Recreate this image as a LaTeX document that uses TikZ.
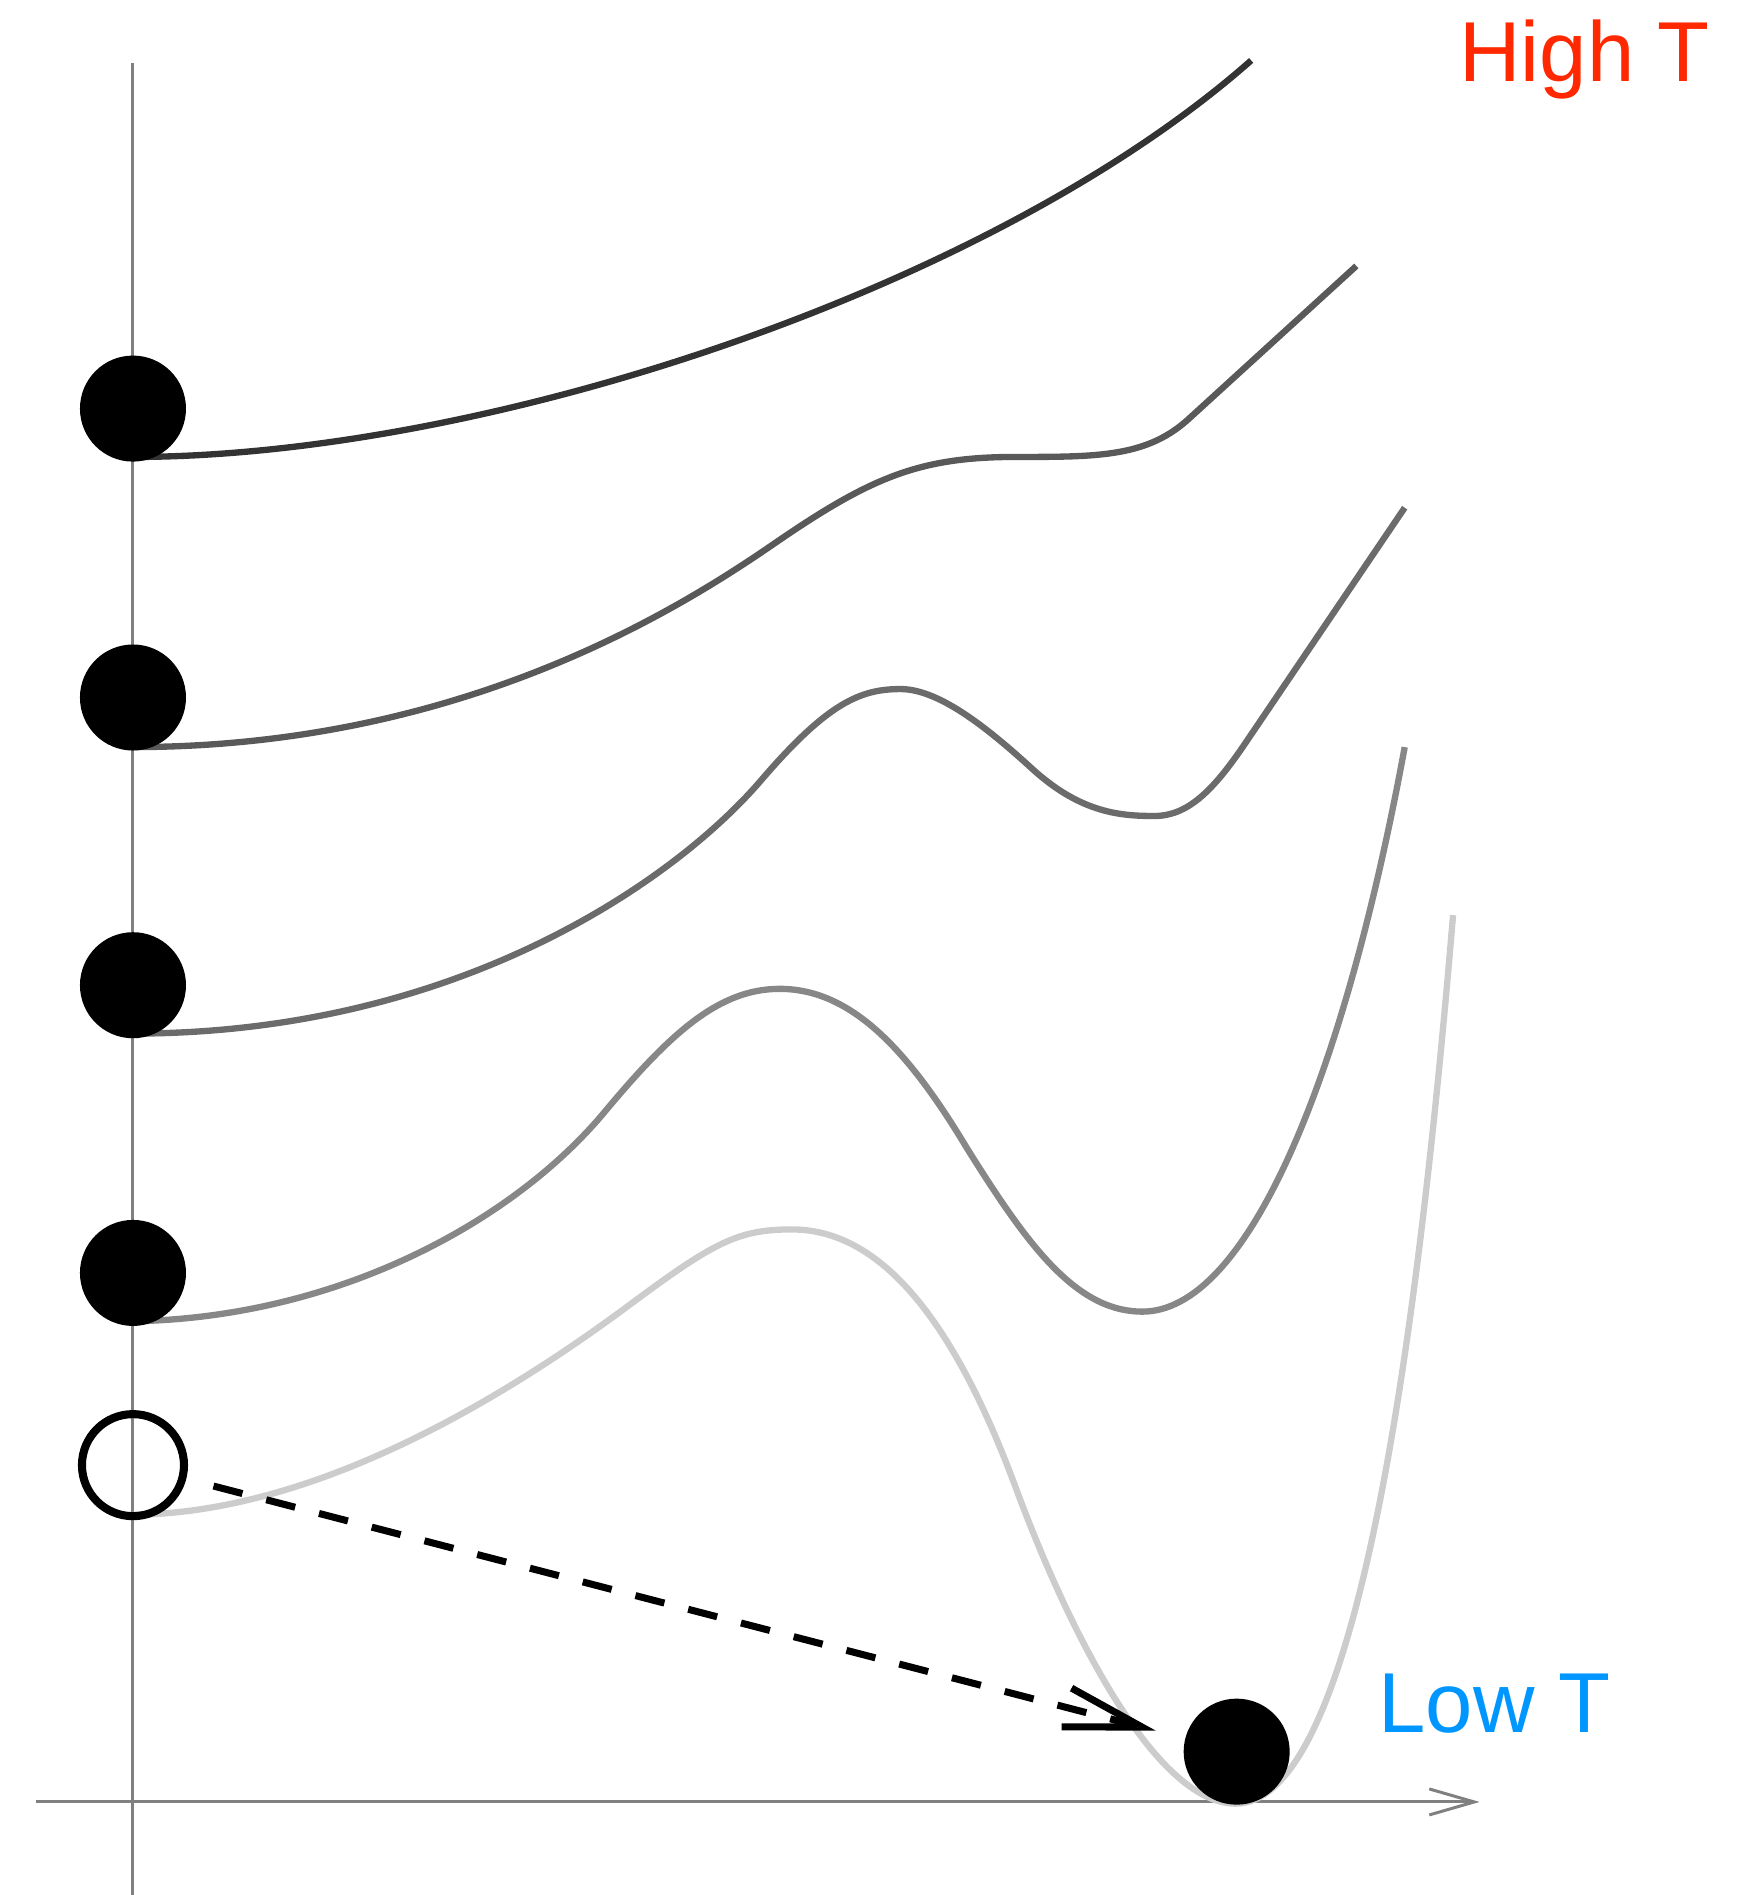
\documentclass[tikz,border=0pt]{standalone}
\usepackage{fontspec}
\setmainfont{Liberation Sans}
\usetikzlibrary{arrows.meta}
\definecolor{hotred}{RGB}{255,40,0}
\definecolor{coldblue}{RGB}{0,150,255}

\begin{document}
\begin{tikzpicture}[x=0.012089cm, y=-0.012089cm,
  every node/.style={font=\fontsize{24.2}{29}\selectfont},
  axis/.style={draw=black!50, line width=0.85pt},
  pot/.style={line width=1.8pt},
  ball/.style={circle, fill=black, inner sep=0pt, minimum size=1.06cm},
  hollow/.style={circle, draw=black, line width=2.3pt, inner sep=0pt,
    minimum size=1.02cm},
  jump/.style={-{Straight Barb[length=7.8mm, width=4mm, line width=2pt]},
    line width=2pt, dash pattern=on 8.5pt off 7pt}
]
\useasboundingbox (0,0) rectangle (1441,1567.6);
\coordinate (ytop) at (110,52);
\coordinate (ybot) at (110,1567.6);
\coordinate (xleft) at (30,1490.6);
\coordinate (xright) at (1224,1490.6);
\draw[axis] (ytop) -- (ybot);
\draw[axis, -{Straight Barb[length=4.5mm, width=2.6mm]}] (xleft) -- (xright);
% potential, from high T (top) to low T (bottom)
\draw[pot, black!80] (110,378) .. controls (400,378) and (820,240) .. (1035,50);
\draw[pot, black!65] (110,618) .. controls (380,618) and (560,505) .. (640,450)
  .. controls (720,395) and (760,378) .. (840,378)
  .. controls (910,378) and (950,378) .. (985,345) -- (1122,220);
\draw[pot, black!58] (110,855) .. controls (380,855) and (560,727) .. (630,645)
  .. controls (685,581) and (712,570) .. (745,570)
  .. controls (778,570) and (820,605) .. (855,637)
  .. controls (895,673) and (928,675) .. (955,675)
  .. controls (982,675) and (1003,655) .. (1030,615) -- (1162,420);
\draw[pot, black!47] (110,1093) .. controls (280,1090) and (425,1010) .. (500,920)
  .. controls (555,854) and (595,818) .. (645,818)
  .. controls (705,818) and (752,870) .. (800,950)
  .. controls (850,1030) and (890,1085) .. (945,1085)
  .. controls (1030,1085) and (1110,900) .. (1162,618);
\draw[pot, black!20] (110,1253) .. controls (250,1252) and (400,1169) .. (520,1080)
  .. controls (590,1028) and (610,1017) .. (655,1017)
  .. controls (730,1017) and (790,1095) .. (840,1230)
  .. controls (890,1365) and (960,1492) .. (1022,1492)
  .. controls (1110,1492) and (1165,1200) .. (1202,757);
\node[ball] (b1) at (110,338) {};
\node[ball] (b2) at (110,577) {};
\node[ball] (b3) at (110,815) {};
\node[ball] (b4) at (110,1053) {};
\node[hollow] (false) at (110,1212) {};
\node[ball] (true) at (1023,1449) {};
\draw[jump, shorten <=8pt, shorten >=8.5pt] (false) -- (true);
\node[text=hotred, anchor=base west] (high) at (1197,67.8) {High T};
\node[text=coldblue, anchor=base west] (low) at (1130,1433.5) {Low T};
\end{tikzpicture}
\end{document}
